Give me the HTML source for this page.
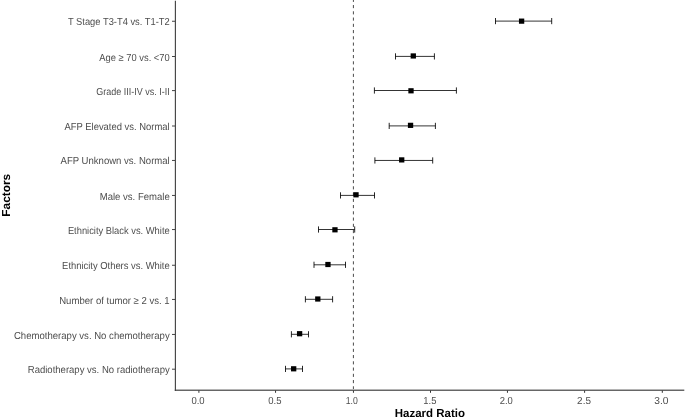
<!DOCTYPE html>
<html><head><meta charset="utf-8"><style>
html,body{margin:0;padding:0;background:#fff;width:685px;height:418px;overflow:hidden}
svg{display:block;font-family:"Liberation Sans",sans-serif;will-change:transform;text-rendering:geometricPrecision}
</style></head><body>
<svg width="685" height="418" viewBox="0 0 685 418">
<rect width="685" height="418" fill="#fff"/>
<line x1="353.4" y1="-1.21" x2="353.4" y2="389.7" stroke="#4a4a4a" stroke-width="1" stroke-dasharray="3.125 3.125"/>
<line x1="495.5" y1="21.1" x2="551.7" y2="21.1" stroke="#000" stroke-width="0.8"/>
<line x1="495.5" y1="18.00" x2="495.5" y2="24.20" stroke="#000" stroke-width="0.85"/>
<line x1="551.7" y1="18.00" x2="551.7" y2="24.20" stroke="#000" stroke-width="0.85"/>
<rect x="518.95" y="18.55" width="5.3" height="5.2" fill="#000"/>
<line x1="172" y1="21.25" x2="175" y2="21.25" stroke="#444" stroke-width="1"/>
<text id="t0" x="169.7" y="25.40" text-anchor="end" font-size="10.2" fill="#4d4d4d" textLength="101.73" lengthAdjust="spacingAndGlyphs">T Stage T3-T4 vs. T1-T2</text>
<line x1="395.5" y1="56.4" x2="434.4" y2="56.4" stroke="#000" stroke-width="0.8"/>
<line x1="395.5" y1="53.30" x2="395.5" y2="59.50" stroke="#000" stroke-width="0.85"/>
<line x1="434.4" y1="53.30" x2="434.4" y2="59.50" stroke="#000" stroke-width="0.85"/>
<rect x="410.65" y="53.35" width="5.3" height="5.2" fill="#000"/>
<line x1="172" y1="56.5" x2="175" y2="56.5" stroke="#444" stroke-width="1"/>
<text id="t1" x="169.7" y="60.60" text-anchor="end" font-size="10.2" fill="#4d4d4d" textLength="70.35" lengthAdjust="spacingAndGlyphs">Age ≥ 70 vs. &lt;70</text>
<line x1="374.4" y1="90.5" x2="456.4" y2="90.5" stroke="#000" stroke-width="0.8"/>
<line x1="374.4" y1="87.40" x2="374.4" y2="93.60" stroke="#000" stroke-width="0.85"/>
<line x1="456.4" y1="87.40" x2="456.4" y2="93.60" stroke="#000" stroke-width="0.85"/>
<rect x="408.35" y="88.20" width="5.3" height="5.2" fill="#000"/>
<line x1="172" y1="90.6" x2="175" y2="90.6" stroke="#444" stroke-width="1"/>
<text id="t2" x="169.7" y="94.75" text-anchor="end" font-size="10.2" fill="#4d4d4d" textLength="73.38" lengthAdjust="spacingAndGlyphs">Grade III-IV vs. I-II</text>
<line x1="389.2" y1="125.9" x2="435.4" y2="125.9" stroke="#000" stroke-width="0.8"/>
<line x1="389.2" y1="122.80" x2="389.2" y2="129.00" stroke="#000" stroke-width="0.85"/>
<line x1="435.4" y1="122.80" x2="435.4" y2="129.00" stroke="#000" stroke-width="0.85"/>
<rect x="407.90" y="122.75" width="5.3" height="5.2" fill="#000"/>
<line x1="172" y1="126.0" x2="175" y2="126.0" stroke="#444" stroke-width="1"/>
<text id="t3" x="169.7" y="129.85" text-anchor="end" font-size="10.2" fill="#4d4d4d" textLength="105.24" lengthAdjust="spacingAndGlyphs">AFP Elevated vs. Normal</text>
<line x1="374.9" y1="160.45" x2="432.7" y2="160.45" stroke="#000" stroke-width="0.8"/>
<line x1="374.9" y1="157.35" x2="374.9" y2="163.55" stroke="#000" stroke-width="0.85"/>
<line x1="432.7" y1="157.35" x2="432.7" y2="163.55" stroke="#000" stroke-width="0.85"/>
<rect x="399.05" y="157.30" width="5.3" height="5.2" fill="#000"/>
<line x1="172" y1="160.45" x2="175" y2="160.45" stroke="#444" stroke-width="1"/>
<text id="t4" x="169.7" y="163.55" text-anchor="end" font-size="10.2" fill="#4d4d4d" textLength="109.12" lengthAdjust="spacingAndGlyphs">AFP Unknown vs. Normal</text>
<line x1="340.5" y1="195.4" x2="374.5" y2="195.4" stroke="#000" stroke-width="0.8"/>
<line x1="340.5" y1="192.30" x2="340.5" y2="198.50" stroke="#000" stroke-width="0.85"/>
<line x1="374.5" y1="192.30" x2="374.5" y2="198.50" stroke="#000" stroke-width="0.85"/>
<rect x="353.35" y="192.20" width="5.3" height="5.2" fill="#000"/>
<line x1="172" y1="195.45" x2="175" y2="195.45" stroke="#444" stroke-width="1"/>
<text id="t5" x="169.7" y="199.50" text-anchor="end" font-size="10.2" fill="#4d4d4d" textLength="69.96" lengthAdjust="spacingAndGlyphs">Male vs. Female</text>
<line x1="318.5" y1="229.5" x2="354.7" y2="229.5" stroke="#000" stroke-width="0.8"/>
<line x1="318.5" y1="226.40" x2="318.5" y2="232.60" stroke="#000" stroke-width="0.85"/>
<line x1="354.7" y1="226.40" x2="354.7" y2="232.60" stroke="#000" stroke-width="0.85"/>
<rect x="332.31" y="227.20" width="5.3" height="5.2" fill="#000"/>
<line x1="172" y1="229.55" x2="175" y2="229.55" stroke="#444" stroke-width="1"/>
<text id="t6" x="169.7" y="233.65" text-anchor="end" font-size="10.2" fill="#4d4d4d" textLength="101.80" lengthAdjust="spacingAndGlyphs">Ethnicity Black vs. White</text>
<line x1="314.0" y1="264.8" x2="345.5" y2="264.8" stroke="#000" stroke-width="0.8"/>
<line x1="314.0" y1="261.70" x2="314.0" y2="267.90" stroke="#000" stroke-width="0.85"/>
<line x1="345.5" y1="261.70" x2="345.5" y2="267.90" stroke="#000" stroke-width="0.85"/>
<rect x="325.31" y="261.90" width="5.3" height="5.2" fill="#000"/>
<line x1="172" y1="265.26" x2="175" y2="265.26" stroke="#444" stroke-width="1"/>
<text id="t7" x="169.7" y="269.15" text-anchor="end" font-size="10.2" fill="#4d4d4d" textLength="107.59" lengthAdjust="spacingAndGlyphs">Ethnicity Others vs. White</text>
<line x1="305.4" y1="299.3" x2="332.6" y2="299.3" stroke="#000" stroke-width="0.8"/>
<line x1="305.4" y1="296.20" x2="305.4" y2="302.40" stroke="#000" stroke-width="0.85"/>
<line x1="332.6" y1="296.20" x2="332.6" y2="302.40" stroke="#000" stroke-width="0.85"/>
<rect x="315.15" y="296.40" width="5.3" height="5.2" fill="#000"/>
<line x1="172" y1="299.45" x2="175" y2="299.45" stroke="#444" stroke-width="1"/>
<text id="t8" x="169.7" y="303.50" text-anchor="end" font-size="10.2" fill="#4d4d4d" textLength="110.47" lengthAdjust="spacingAndGlyphs">Number of tumor ≥ 2 vs. 1</text>
<line x1="291.4" y1="334.3" x2="308.5" y2="334.3" stroke="#000" stroke-width="0.8"/>
<line x1="291.4" y1="331.20" x2="291.4" y2="337.40" stroke="#000" stroke-width="0.85"/>
<line x1="308.5" y1="331.20" x2="308.5" y2="337.40" stroke="#000" stroke-width="0.85"/>
<rect x="296.95" y="331.10" width="5.3" height="5.2" fill="#000"/>
<line x1="172" y1="334.45" x2="175" y2="334.45" stroke="#444" stroke-width="1"/>
<text id="t9" x="169.7" y="339.45" text-anchor="end" font-size="10.2" fill="#4d4d4d" textLength="155.73" lengthAdjust="spacingAndGlyphs">Chemotherapy vs. No chemotherapy</text>
<line x1="285.5" y1="368.9" x2="302.5" y2="368.9" stroke="#000" stroke-width="0.8"/>
<line x1="285.5" y1="365.80" x2="285.5" y2="372.00" stroke="#000" stroke-width="0.85"/>
<line x1="302.5" y1="365.80" x2="302.5" y2="372.00" stroke="#000" stroke-width="0.85"/>
<rect x="291.02" y="366.20" width="5.3" height="5.2" fill="#000"/>
<line x1="172" y1="369.2" x2="175" y2="369.2" stroke="#444" stroke-width="1"/>
<text id="t10" x="169.7" y="373.30" text-anchor="end" font-size="10.2" fill="#4d4d4d" textLength="141.94" lengthAdjust="spacingAndGlyphs">Radiotherapy vs. No radiotherapy</text>
<rect x="174.8" y="389" width="509.5" height="1" fill="#b4b4b4"/>
<rect x="174.8" y="390" width="509.5" height="1" fill="#666"/>
<line x1="175.4" y1="0.8" x2="175.4" y2="390.9" stroke="#444" stroke-width="1.14"/>
<line x1="198.90" y1="390.5" x2="198.90" y2="392.8" stroke="#333" stroke-width="1"/>
<text id="x0" x="191.40" y="403.8" font-size="10.2" fill="#4d4d4d" textLength="13.23" lengthAdjust="spacingAndGlyphs">0.0</text>
<line x1="275.55" y1="390.5" x2="275.55" y2="392.8" stroke="#333" stroke-width="1"/>
<text id="x1" x="268.30" y="403.8" font-size="10.2" fill="#4d4d4d" textLength="13.24" lengthAdjust="spacingAndGlyphs">0.5</text>
<line x1="353.45" y1="390.5" x2="353.45" y2="392.8" stroke="#333" stroke-width="1"/>
<text id="x2" x="345.80" y="403.8" font-size="10.2" fill="#4d4d4d" textLength="12.04" lengthAdjust="spacingAndGlyphs">1.0</text>
<line x1="430.50" y1="390.5" x2="430.50" y2="392.8" stroke="#333" stroke-width="1"/>
<text id="x3" x="423.30" y="403.8" font-size="10.2" fill="#4d4d4d" textLength="13.12" lengthAdjust="spacingAndGlyphs">1.5</text>
<line x1="507.45" y1="390.5" x2="507.45" y2="392.8" stroke="#333" stroke-width="1"/>
<text id="x4" x="499.70" y="403.8" font-size="10.2" fill="#4d4d4d" textLength="13.11" lengthAdjust="spacingAndGlyphs">2.0</text>
<line x1="584.60" y1="390.5" x2="584.60" y2="392.8" stroke="#333" stroke-width="1"/>
<text id="x5" x="577.11" y="403.8" font-size="10.2" fill="#4d4d4d" textLength="13.82" lengthAdjust="spacingAndGlyphs">2.5</text>
<line x1="662.30" y1="390.5" x2="662.30" y2="392.8" stroke="#333" stroke-width="1"/>
<text id="x6" x="654.31" y="403.8" font-size="10.2" fill="#4d4d4d" textLength="14.30" lengthAdjust="spacingAndGlyphs">3.0</text>
<text id="hr" x="429.92" y="416.6" text-anchor="middle" font-size="11.6" font-weight="bold" fill="#000" textLength="70.19" lengthAdjust="spacingAndGlyphs">Hazard Ratio</text>
<text id="fa" transform="translate(9.60,195.26) rotate(-90)" text-anchor="middle" font-size="11.6" font-weight="bold" fill="#000" textLength="42.90" lengthAdjust="spacingAndGlyphs">Factors</text>
</svg>
</body></html>
